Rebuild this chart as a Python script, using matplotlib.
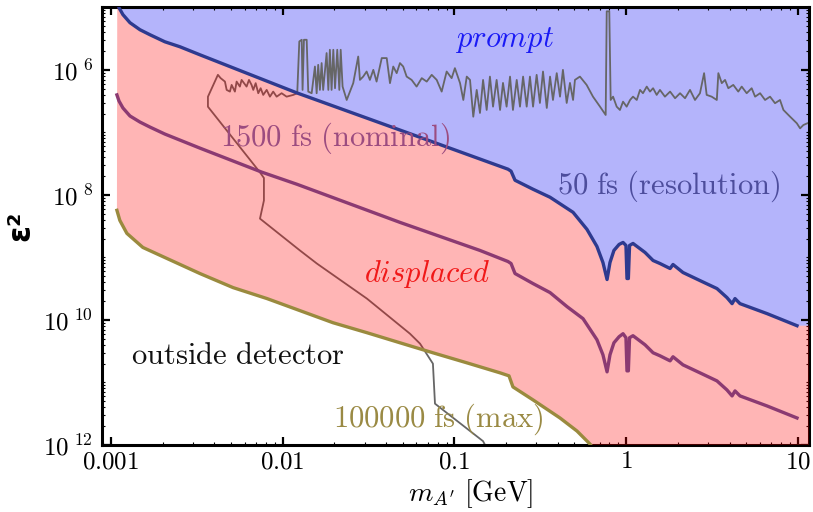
import numpy as np
import matplotlib
matplotlib.use("Agg")
import matplotlib.pyplot as plt
from matplotlib.ticker import FixedLocator, FixedFormatter, LogLocator, NullFormatter

plt.rcParams['mathtext.fontset'] = 'cm'
plt.rcParams['font.family'] = ['DejaVu Sans']

# ---------------- data (log10 of mass in GeV, log10 of eps^2) ----------------
res_log_m = [-2.962, -2.953, -2.930, -2.889, -2.831, -2.773, -2.686, -2.598, -2.482,
             -1.917, -1.317, -0.688, -0.670, -0.647, -0.542, -0.443, -0.309, -0.228,
             -0.170, -0.135, -0.111, -0.094, -0.071, -0.041, -0.018, -0.001, 0.005,
             0.013, 0.020, 0.040, 0.110, 0.157, 0.197, 0.256, 0.273, 0.331, 0.430,
             0.529, 0.587, 0.617, 0.634, 0.663, 0.821, 0.995]
res_log_e = [-4.876, -5.005, -5.117, -5.246, -5.358, -5.438, -5.551, -5.631, -5.759,
             -6.369, -6.963, -7.589, -7.621, -7.766, -7.910, -8.038, -8.279, -8.552,
             -8.825, -9.082, -9.354, -9.082, -8.889, -8.793, -8.761, -8.809, -9.338,
             -9.338, -8.809, -8.777, -8.921, -9.050, -9.098, -9.178, -9.114, -9.242,
             -9.371, -9.499, -9.643, -9.740, -9.659, -9.740, -9.900, -10.093]

nom_log_m = [-2.965, -2.953, -2.930, -2.889, -2.831, -2.773, -2.686, -2.598, -2.482,
             -2.121, -1.917, -1.317, -0.851, -0.688, -0.670, -0.647, -0.542, -0.443,
             -0.344, -0.251, -0.170, -0.135, -0.111, -0.094, -0.071, -0.041, -0.018,
             -0.001, 0.005, 0.013, 0.020, 0.040, 0.110, 0.157, 0.197, 0.256, 0.273,
             0.331, 0.430, 0.529, 0.587, 0.617, 0.634, 0.663, 0.821, 0.995]
nom_log_e = [-6.401, -6.498, -6.610, -6.738, -6.835, -6.915, -7.027, -7.124, -7.252,
             -7.637, -7.830, -8.440, -8.889, -9.066, -9.098, -9.258, -9.419, -9.563,
             -9.788, -9.980, -10.317, -10.558, -10.831, -10.558, -10.366, -10.269,
             -10.221, -10.285, -10.815, -10.815, -10.285, -10.253, -10.398, -10.526,
             -10.574, -10.655, -10.590, -10.719, -10.847, -10.976, -11.120, -11.216,
             -11.136, -11.216, -11.377, -11.569]

max_log_m = [-2.965, -2.948, -2.907, -2.814, -2.674, -2.482, -2.289, -2.091, -1.899,
             -1.707, -1.509, -1.317, -1.125, -0.927, -0.734, -0.682, -0.659, -0.542,
             -0.385, -0.286, -0.210, -0.181]
max_log_e = [-8.247, -8.408, -8.616, -8.841, -9.017, -9.258, -9.483, -9.659, -9.852,
             -10.045, -10.205, -10.366, -10.526, -10.687, -10.847, -10.895, -11.072,
             -11.280, -11.569, -11.778, -11.987, -12.099]

lim_log_m = [-0.816, -0.833, -1.113, -1.125, -1.200, -1.259, -1.509, -1.800, -1.899,
             -2.132, -2.109, -2.109, -2.132, -2.435, -2.435, -2.377,
             -2.361, -2.336, -2.326, -2.307, -2.297, -2.278, -2.268, -2.249, -2.239,
             -2.225, -2.210, -2.196, -2.181, -2.171, -2.157, -2.142, -2.128, -2.113,
             -2.093, -2.074, -2.055, -2.035, -2.006, -1.977, -1.938, -1.915,
             -1.903, -1.889, -1.884, -1.876, -1.860, -1.851, -1.831, -1.812, -1.802,
             -1.793, -1.783, -1.773, -1.764, -1.744, -1.734, -1.725, -1.715, -1.705,
             -1.695, -1.682, -1.670, -1.662, -1.651, -1.627, -1.589, -1.560, -1.550,
             -1.531, -1.511, -1.492, -1.472, -1.453, -1.423, -1.394, -1.375, -1.356,
             -1.336, -1.317, -1.298, -1.278, -1.249, -1.220, -1.190, -1.161, -1.132,
             -1.103, -1.074, -1.045, -1.016, -0.997, -0.967, -0.948, -0.928, -0.909,
             -0.890, -0.870, -0.851, -0.833, -0.812, -0.793, -0.775, -0.754, -0.734,
             -0.717, -0.696, -0.676, -0.659, -0.637, -0.618, -0.600, -0.579, -0.560,
             -0.542, -0.521, -0.502, -0.484, -0.462, -0.443, -0.426, -0.404, -0.385,
             -0.368, -0.346, -0.327, -0.309, -0.298, -0.269, -0.230, -0.193, -0.152,
             -0.119, -0.113, -0.098, -0.090, -0.076, -0.055, -0.036, -0.018, 0.003,
             0.023, 0.040, 0.062, 0.081, 0.098, 0.120, 0.139, 0.157, 0.178, 0.197,
             0.226, 0.256, 0.285, 0.314, 0.343, 0.372, 0.401, 0.430, 0.454, 0.469,
             0.498, 0.528, 0.537, 0.557, 0.576, 0.595, 0.624, 0.653, 0.673, 0.702,
             0.731, 0.751, 0.780, 0.809, 0.838, 0.867, 0.896, 0.916, 0.955, 0.994,
             1.013, 1.032, 1.055]
lim_log_e = [-12.03, -11.94, -11.34, -10.70, -10.38, -10.22, -9.66, -9.10, -8.89,
             -8.38, -8.09, -7.73, -7.64, -6.59, -6.43, -6.08,
             -6.133, -6.188, -6.321, -6.348, -6.241, -6.348, -6.188, -6.268, -6.161,
             -6.213, -6.268, -6.161, -6.241, -6.321, -6.213, -6.374, -6.294, -6.401,
             -6.321, -6.429, -6.348, -6.429, -6.374, -6.429, -6.401, -6.374,
             -5.546, -5.519, -6.321, -5.519, -5.519, -6.348, -6.374, -5.947, -6.374,
             -5.920, -6.321, -5.892, -6.321, -5.732, -6.321, -5.679, -6.321, -5.679,
             -6.294, -5.679, -6.321, -5.679, -6.268, -6.482, -6.213, -5.787, -6.161,
             -6.108, -6.027, -6.161, -6.000, -6.188, -5.812, -5.812, -6.213, -5.947,
             -6.053, -5.892, -5.947, -6.108, -6.161, -6.268, -6.133, -6.188, -6.080,
             -6.161, -6.348, -6.027, -6.133, -5.973, -6.213, -6.482, -6.108, -6.161,
             -6.750, -6.321, -6.690, -6.161, -6.642, -6.108, -6.589, -6.161, -6.642,
             -6.209, -6.589, -6.108, -6.642, -6.161, -6.589, -6.108, -6.589, -6.108,
             -6.589, -6.080, -6.530, -6.027, -6.610, -6.108, -6.482, -6.053, -6.429,
             -6.000, -6.530, -6.209, -6.482, -6.161, -6.108, -6.241, -6.429, -6.589,
             -6.722, -5.064, -5.064, -6.482, -6.429, -6.589, -6.642, -6.509, -6.589,
             -6.482, -6.429, -6.482, -6.321, -6.374, -6.268, -6.348, -6.294, -6.401,
             -6.321, -6.429, -6.348, -6.454, -6.374, -6.454, -6.321, -6.482, -6.374,
             -6.053, -6.401, -6.429, -6.482, -6.053, -6.213, -6.161, -6.294, -6.241,
             -6.348, -6.268, -6.374, -6.294, -6.429, -6.374, -6.482, -6.429, -6.534,
             -6.482, -6.642, -6.750, -6.855, -6.936, -6.883, -6.855]

x_ticks = [0.001, 0.01, 0.1, 1, 10]
x_tick_labels = [r"$0.001$", r"$0.01$", r"$0.1$", r"$1$", r"$10$"]
y_ticks = [1e-12, 1e-10, 1e-8, 1e-6]
y_tick_labels = [r"$10^{\ 12}$", r"$10^{\ 10}$", r"$10^{\ 8}$", r"$10^{\ 6}$"]
x_lim = (8.83e-4, 11.6)
y_lim = (1e-12, 1e-5)

res_m, res_e = 10 ** np.array(res_log_m), 10 ** np.array(res_log_e)
nom_m, nom_e = 10 ** np.array(nom_log_m), 10 ** np.array(nom_log_e)
max_m, max_e = 10 ** np.array(max_log_m), 10 ** np.array(max_log_e)
lim_m, lim_e = 10 ** np.array(lim_log_m), 10 ** np.array(lim_log_e)

# ---------------- figure ----------------
fig = plt.figure(figsize=(8.13, 5.12), dpi=100)
ax = fig.add_axes([0.125, 0.131, 0.870, 0.8547])
ax.set_xscale('log')
ax.set_yscale('log')
ax.set_xlim(*x_lim)
ax.set_ylim(*y_lim)

top_out = 1e-3
bot_out = 1e-14
# prompt region (above 50 fs curve)
bx = np.concatenate([[res_m[0]], res_m, [x_lim[1] * 2, x_lim[1] * 2]])
by = np.concatenate([[top_out], res_e, [res_e[-1], top_out]])
ax.fill(bx, by, color='#b4b4fb', lw=0, zorder=1)

# limit line (drawn beneath the translucent displaced region)
ax.plot(lim_m, lim_e, color='#666666', lw=1.3, zorder=2)

# displaced region (between 50 fs and 100000 fs curves)
px_ = np.concatenate([[res_m[0]], res_m, [x_lim[1] * 2, x_lim[1] * 2, max_m[-1]],
                      max_m[::-1]])
py_ = np.concatenate([[top_out], res_e, [res_e[-1], bot_out, bot_out], max_e[::-1]])
ax.fill(px_, py_, color=(1.0, 0.0, 0.0), alpha=0.29, lw=0, zorder=3)

ax.plot(res_m, res_e, color='#2e3a8f', lw=2.4, zorder=5, solid_joinstyle='round')
ax.plot(nom_m, nom_e, color='#8b3a72', lw=2.4, zorder=5, solid_joinstyle='round')
ax.plot(max_m, max_e, color='#9a8a3e', lw=2.4, zorder=5, solid_joinstyle='round')

# labels in the plot
tk = dict(transform=ax.transAxes, ha='center', va='center', zorder=6)
fs = 22
ax.text(0.570, 0.925, r"$\mathit{prompt}$", color='#1a1af5', fontsize=fs, **tk)
ax.text(0.801, 0.592, r"$\mathrm{50\ fs\ (resolution)}$", color='#4d4d9c', fontsize=fs, **tk)
ax.text(0.330, 0.700, r"$\mathrm{1500\ fs\ (nominal)}$", color='#9c4c80', fontsize=fs, **tk)
ax.text(0.460, 0.391, r"$\mathit{displaced}$", color='#f01818', fontsize=fs, **tk)
ax.text(0.193, 0.205, r"$\mathrm{outside\ detector}$", color='#111111', fontsize=fs, **tk)
ax.text(0.476, 0.059, r"$\mathrm{100000\ fs\ (max)}$", color='#9a8a44', fontsize=fs, **tk)

# axes styling
for s in ax.spines.values():
    s.set_linewidth(2.2)
    s.set_color('black')
ax.xaxis.set_major_locator(FixedLocator(x_ticks))
ax.xaxis.set_major_formatter(FixedFormatter(x_tick_labels))
ax.xaxis.set_minor_locator(LogLocator(base=10, subs=np.arange(2, 10)))
ax.xaxis.set_minor_formatter(NullFormatter())
ax.yaxis.set_major_locator(FixedLocator(y_ticks))
ax.yaxis.set_major_formatter(FixedFormatter(y_tick_labels))
ax.yaxis.set_minor_locator(LogLocator(base=10, subs=np.arange(1, 10), numticks=30))
ax.yaxis.set_minor_formatter(NullFormatter())
ax.tick_params(which='both', direction='in', top=True, right=True)
ax.tick_params(which='major', length=6, width=1.6, labelsize=18)
ax.tick_params(axis='x', which='major', pad=3)
ax.tick_params(axis='y', which='major', pad=6)
ax.tick_params(which='minor', length=2.5, width=0.8)

ax.set_xlabel(r"$m_{A'}\ \mathrm{[GeV]}$", fontsize=20)
ax.xaxis.set_label_coords(0.521, -0.074)
ax.set_ylabel("ε²", fontsize=22, fontweight='bold', labelpad=6)

fig.savefig("out.png", dpi=100)
